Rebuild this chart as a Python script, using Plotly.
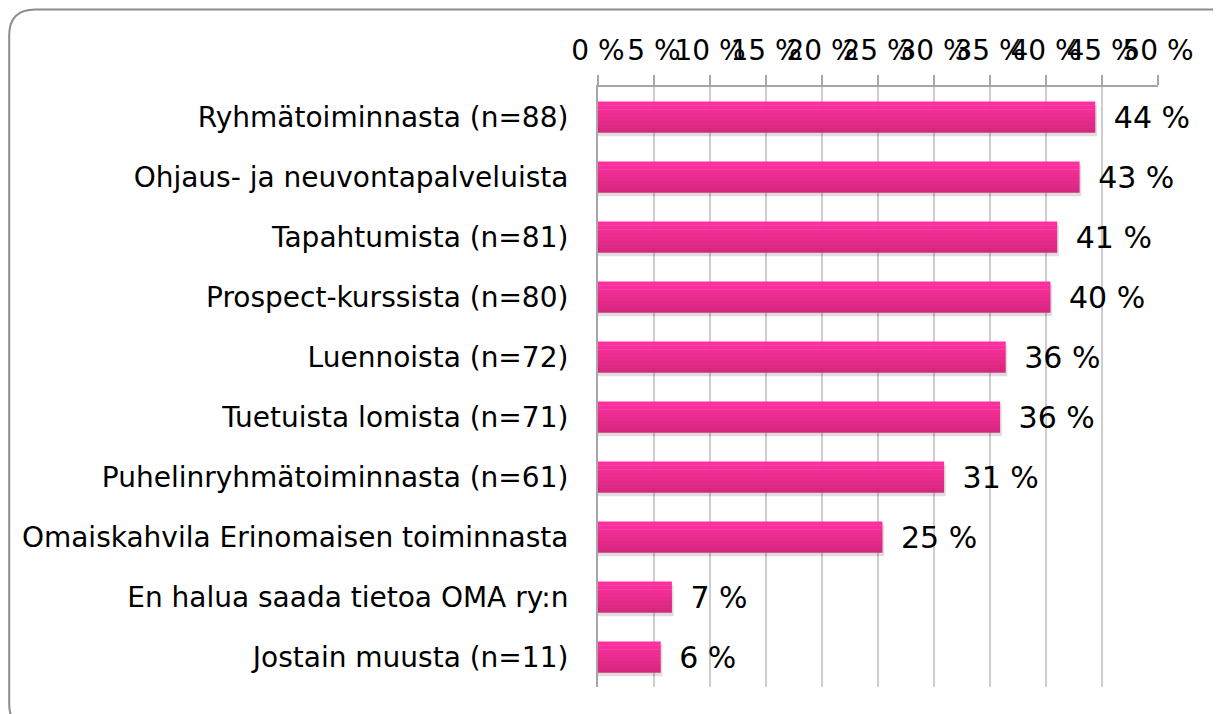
import plotly.graph_objects as go

categories = [
    "Ryhmätoiminnasta (n=88)",
    "Ohjaus- ja neuvontapalveluista",
    "Tapahtumista (n=81)",
    "Prospect-kurssista (n=80)",
    "Luennoista (n=72)",
    "Tuetuista lomista (n=71)",
    "Puhelinryhmätoiminnasta (n=61)",
    "Omaiskahvila Erinomaisen toiminnasta",
    "En halua saada tietoa OMA ry:n",
    "Jostain muusta (n=11)",
]
values = [44.4, 43.0, 41.0, 40.4, 36.4, 35.9, 30.9, 25.4, 6.6, 5.6]
tick_vals = [0, 5, 10, 15, 20, 25, 30, 35, 40, 45, 50]
tick_text = [f"{v} %" for v in tick_vals]

# the page body adds an 8px margin, so the figure is placed at (8, 8)
OFF = 8
W, H = 1221 - OFF, 714 - OFF
L, R, T, B = 598 - OFF, 1158 - OFF, 87 - OFF, 687 - OFF
FONT = "DejaVu Sans"
FS = 28
FS_LABEL = 30

def px(x):
    return (x - L) / (R - L)

def py(y):
    return (B - y) / (B - T)

fig = go.Figure()

bw = 0.52
# shadow
fig.add_trace(go.Bar(
    y=categories, x=[v + 0.15 for v in values], orientation="h",
    width=bw, offset=-bw / 2 + 0.06,
    marker=dict(color="rgba(0,0,0,0.13)", line=dict(width=0)),
    hoverinfo="skip", showlegend=False,
))
# labels (transparent carrier)
fig.add_trace(go.Bar(
    y=categories, x=values, orientation="h",
    width=bw, offset=-bw / 2,
    marker=dict(color="rgba(0,0,0,0)", line=dict(width=0)),
    texttemplate=" \u2009%{x:.0f} %", textposition="outside",
    constraintext="none",
    textfont=dict(family=FONT, size=FS_LABEL, color="#000000"),
    cliponaxis=False, showlegend=False,
))
# gradient bands
N = 8
top = (255, 47, 160)
bot = (214, 40, 126)
for i in range(N):
    t = i / (N - 1)
    c = tuple(round(top[k] + (bot[k] - top[k]) * t) for k in range(3))
    fig.add_trace(go.Bar(
        y=categories, x=values, orientation="h",
        width=bw / N + 0.004, offset=-bw / 2 + i * bw / N,
        marker=dict(color=f"rgb{c}", line=dict(width=0)),
        hoverinfo="skip", showlegend=False,
    ))

# rounded outer border (page coords minus offset)
x0, y0, x1, y1, r = 1.2, 1.5, 1228, 722, 26
path = (
    f"M {px(x0 + r)},{py(y0)} L {px(x1 - r)},{py(y0)} "
    f"Q {px(x1)},{py(y0)} {px(x1)},{py(y0 + r)} "
    f"L {px(x1)},{py(y1 - r)} Q {px(x1)},{py(y1)} {px(x1 - r)},{py(y1)} "
    f"L {px(x0 + r)},{py(y1)} Q {px(x0)},{py(y1)} {px(x0)},{py(y1 - r)} "
    f"L {px(x0)},{py(y0 + r)} Q {px(x0)},{py(y0)} {px(x0 + r)},{py(y0)} Z"
)
fig.add_shape(type="path", xref="paper", yref="paper", path=path,
              line=dict(color="#8c8c8c", width=2), layer="below")

fig.update_layout(
    width=W, height=H,
    margin=dict(l=L, r=W - R, t=T, b=H - B, pad=0),
    paper_bgcolor="white", plot_bgcolor="white",
    barmode="overlay",
    showlegend=False,
    font=dict(family=FONT, size=FS, color="#000000"),
    xaxis=dict(
        side="top", range=[0, 50], tickmode="array",
        tickvals=tick_vals, ticktext=tick_text, tickangle=0,
        showgrid=True, gridcolor="#cdcdcd", gridwidth=2,
        showline=True, linecolor="#a6a6a6", linewidth=2,
        ticks="outside", ticklen=10, tickcolor="#a6a6a6", tickwidth=2,
        ticklabelstandoff=4,
        zeroline=False, fixedrange=True,
        tickfont=dict(family=FONT, size=FS, color="#000000"),
    ),
    yaxis=dict(
        autorange="reversed", showgrid=False,
        showline=True, linecolor="#a6a6a6", linewidth=2,
        ticks="outside", ticklen=22, tickcolor="rgba(0,0,0,0)",
        tickfont=dict(family=FONT, size=FS, color="#000000"),
        fixedrange=True,
    ),
)

fig.write_html("out.html")
